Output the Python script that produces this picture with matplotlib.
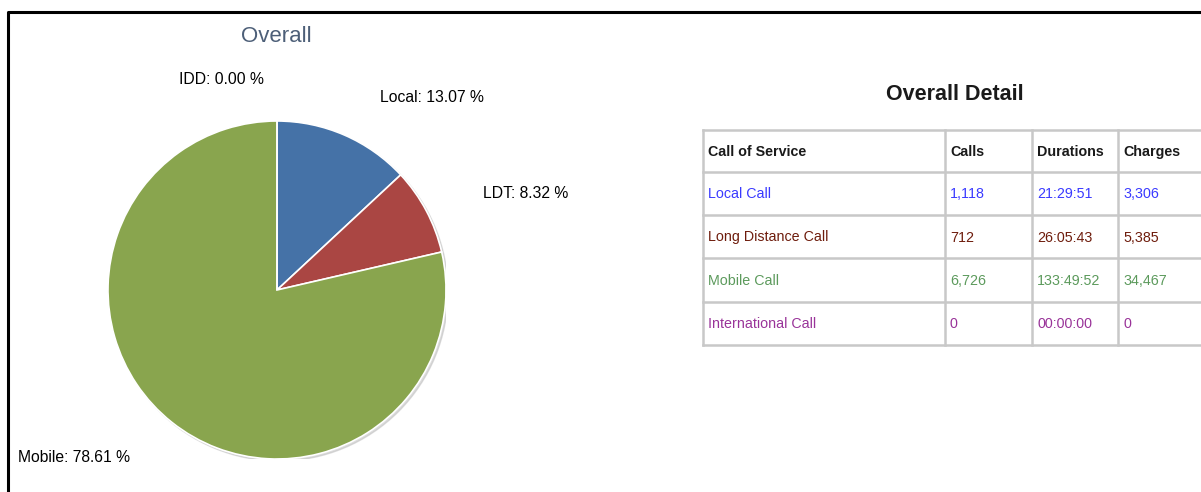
import matplotlib.pyplot as plt
from matplotlib.patches import Circle

plt.rcParams['font.family'] = ['Liberation Sans', 'DejaVu Sans']

# pie data (percent of calls)
pie_names = ["Local", "LDT", "Mobile", "IDD"]
pie_values = [13.07, 8.32, 78.61, 0.00]
pie_colors = ["#4572A7", "#AA4643", "#89A54E", "#80699B"]

# table data
header = ["Call of Service", "Calls", "Durations", "Charges"]
services = ["Local Call", "Long Distance Call", "Mobile Call", "International Call"]
calls = ["1,118", "712", "6,726", "0"]
durations = ["21:29:51", "26:05:43", "133:49:52", "00:00:00"]
charges = ["3,306", "5,385", "34,467", "0"]
row_colors = ["#3a3aff", "#6e1c0c", "#5c9a5c", "#993399"]

W, H = 1201, 492
fig = plt.figure(figsize=(W / 100, H / 100), dpi=100)

# background axes in pixel coordinates
bg = fig.add_axes([0, 0, 1, 1])
bg.set_xlim(0, W)
bg.set_ylim(H, 0)
bg.axis("off")

# frame
bg.plot([8, 8, W + 5], [H + 5, 12, 12], color="black", lw=2.2, solid_capstyle="butt")

# pie
cx, cy, r = 277, 290, 169
pax = fig.add_axes([(cx - r) / W, (H - cy - r) / H, 2 * r / W, 2 * r / H])
pax.set_aspect("equal")
pax.axis("off")
pax.add_patch(Circle((0.012, -0.012), 1.0, color="#bbbbbb", alpha=0.5, zorder=0))
pax.pie(pie_values, colors=pie_colors, startangle=90, counterclock=False,
        wedgeprops=dict(edgecolor="white", linewidth=1.2), radius=1.0)
pax.set_xlim(-1.0, 1.0)
pax.set_ylim(-1.0, 1.0)

bg.text(276, 36, "Overall", ha="center", va="center", fontsize=16, color="#4d5f78")

label_pos = {"IDD": (179, 80), "Local": (380, 98), "LDT": (483, 193), "Mobile": (18, 458)}
for name, val in zip(pie_names, pie_values):
    x, y = label_pos[name]
    bg.text(x, y, f"{name}: {val:.2f} %", ha="left", va="center", fontsize=11.3, color="black")

# table
bg.text(955, 94, "Overall Detail", ha="center", va="center", fontsize=15.5, fontweight="bold",
        color="#1a1a1a")

col_x = [703, 945, 1032, 1118, 1215]
row_y = [130, 172, 215, 258, 302, 345]
grid = "#c8c8c8"
for x in col_x:
    bg.plot([x, x], [row_y[0], row_y[-1]], color=grid, lw=1.8)
for y in row_y:
    bg.plot([col_x[0], col_x[-1]], [y, y], color=grid, lw=1.8)

for j, h in enumerate(header):
    bg.text(col_x[j] + 5, (row_y[0] + row_y[1]) / 2 + 1, h, ha="left", va="center",
            fontsize=10.3, fontweight="bold", color="#1a1a1a")

for i, svc in enumerate(services):
    yc = (row_y[i + 1] + row_y[i + 2]) / 2 + 1
    vals = [svc, calls[i], durations[i], charges[i]]
    for j, v in enumerate(vals):
        bg.text(col_x[j] + 5, yc, v, ha="left", va="center", fontsize=10.3, color=row_colors[i])

fig.savefig("out.png", dpi=100)
